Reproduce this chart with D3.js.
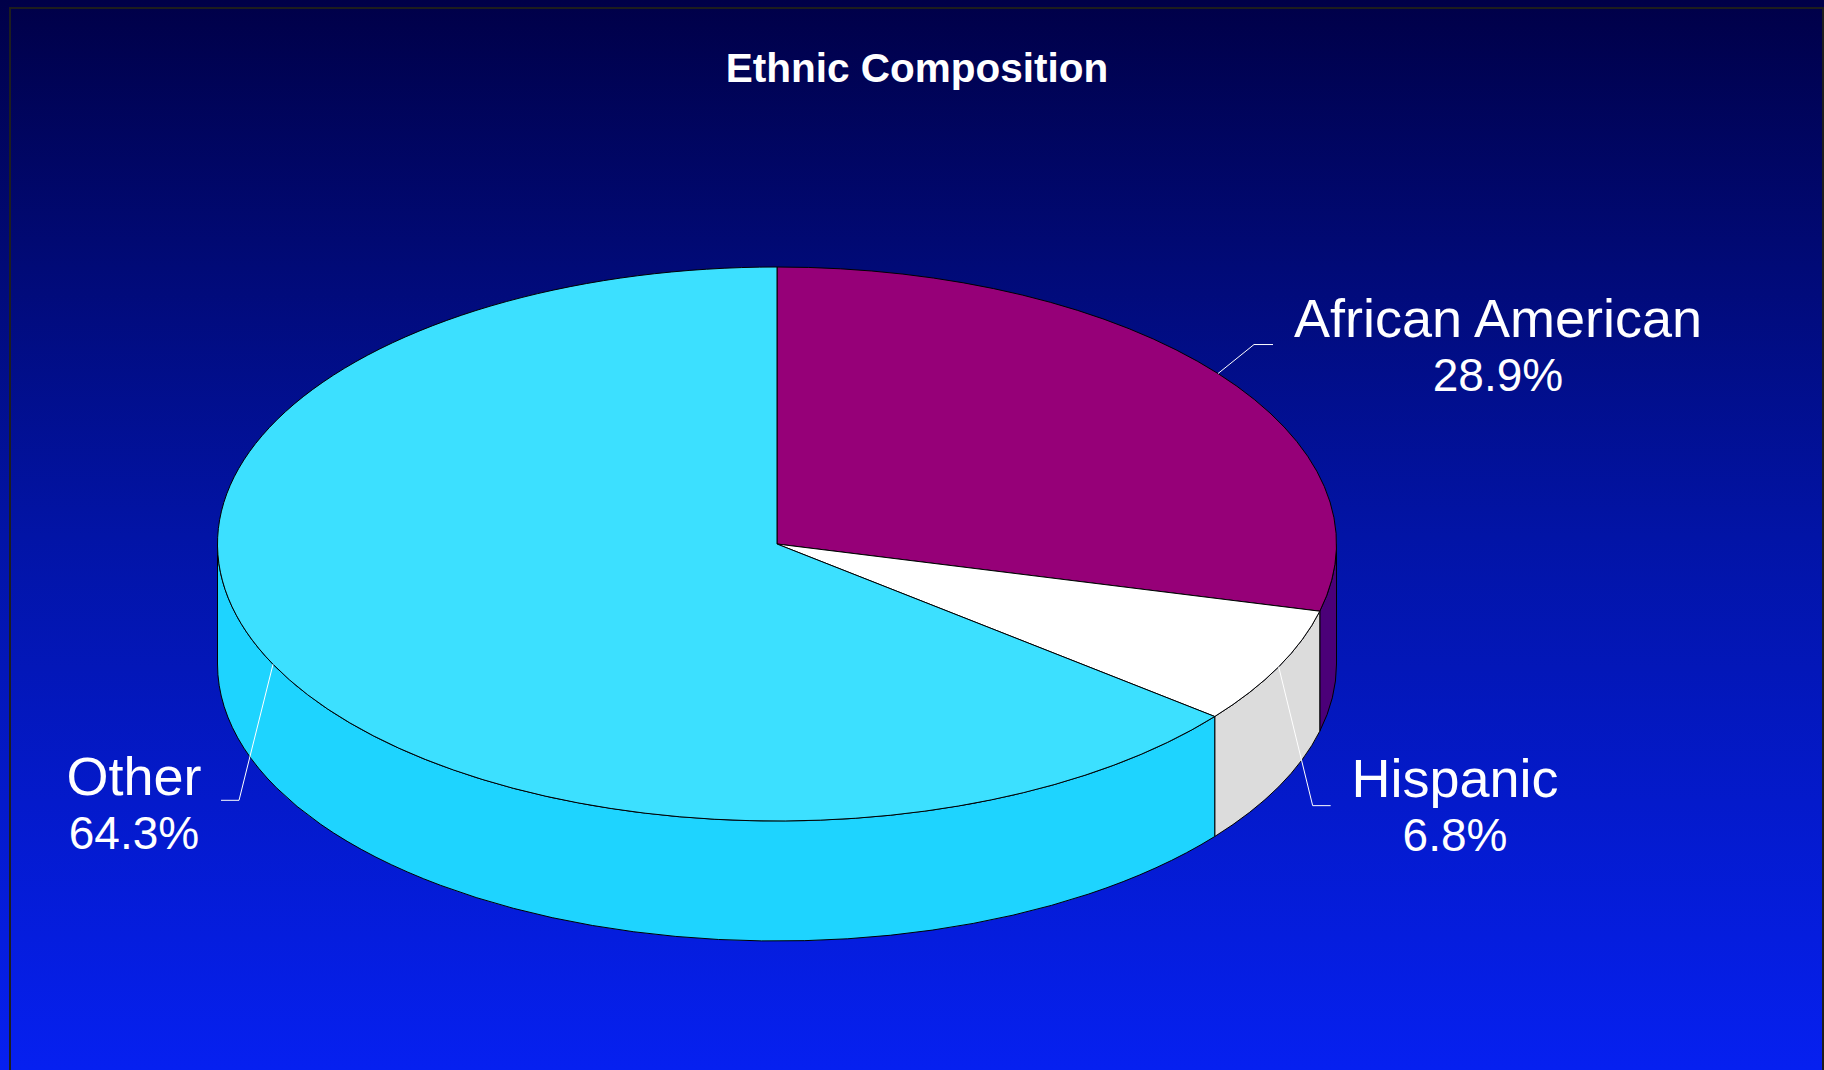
<!DOCTYPE html>
<html>
<head>
<meta charset="utf-8">
<script src="https://cdn.jsdelivr.net/npm/d3@7"></script>
<style>
  html, body { margin: 0; padding: 0; background: #000048; }
  svg { display: block; }
</style>
</head>
<body>
<svg id="chart" width="1824" height="1070"></svg>
<script>
// ---- data ----
const categories = ["African American", "Hispanic", "Other"];
const values = [28.9, 6.8, 64.3];
const valueLabels = ["28.9%", "6.8%", "64.3%"];
const topColors = ["#960078", "#ffffff", "#3ce0ff"];
const sideColors = ["#4b0078", "#dcdcdc", "#1ed4ff"];
const title = "Ethnic Composition";

// ---- layout ----
const W = 1824, H = 1070;
const cx = 777, cy = 544, rx = 559.5, ry = 277, depth = 120;
// label layout: elbow offset from slice mid-point anchor, horizontal tail, and text position
const labelLayout = [
  { elbow: [36, -29], tail: 19, text: [1498, 337] },
  { elbow: [34, 139], tail: 18, text: [1455, 797] },
  { elbow: [-34, 136], tail: -18, text: [134, 795] }
];

const svg = d3.select("#chart");
const defs = svg.append("defs");
const grad = defs.append("linearGradient").attr("id", "bg")
  .attr("x1", 0).attr("y1", 0).attr("x2", 0).attr("y2", 1);
grad.append("stop").attr("offset", "0%").attr("stop-color", "#000048");
grad.append("stop").attr("offset", "50%").attr("stop-color", "#0214a6");
grad.append("stop").attr("offset", "100%").attr("stop-color", "#0620f0");

svg.append("rect").attr("width", W).attr("height", H).attr("fill", "url(#bg)");
svg.append("rect").attr("x", 10).attr("y", 8).attr("width", 1813).attr("height", 1100)
  .attr("fill", "none").attr("stroke", "#1e1e1e").attr("stroke-width", 2);

svg.append("text").attr("x", 917).attr("y", 82).attr("text-anchor", "middle")
  .attr("font-family", "Liberation Sans, Arial, sans-serif").attr("font-weight", "bold")
  .attr("font-size", 40.5).attr("fill", "#ffffff").text(title);

const pie = d3.pie().sort(null).value(d => d).startAngle(0).endAngle(2 * Math.PI);
const arcs = pie(values);

const px = a => cx + rx * Math.sin(a);
const py = (a, off = 0) => cy - ry * Math.cos(a) + off;

function topPath(a0, a1) {
  const large = (a1 - a0) > Math.PI ? 1 : 0;
  return `M${cx},${cy}L${px(a0)},${py(a0)}A${rx},${ry} 0 ${large} 1 ${px(a1)},${py(a1)}Z`;
}
function sidePath(a0, a1) {
  const large = (a1 - a0) > Math.PI ? 1 : 0;
  return `M${px(a0)},${py(a0)}A${rx},${ry} 0 ${large} 1 ${px(a1)},${py(a1)}` +
         `L${px(a1)},${py(a1, depth)}A${rx},${ry} 0 ${large} 0 ${px(a0)},${py(a0, depth)}Z`;
}

const g = svg.append("g");
// sides (visible front half: PI/2 .. 3PI/2)
arcs.forEach((d, i) => {
  const a0 = Math.max(d.startAngle, Math.PI / 2);
  const a1 = Math.min(d.endAngle, 3 * Math.PI / 2);
  if (a1 > a0) {
    g.append("path").attr("d", sidePath(a0, a1))
      .attr("fill", sideColors[i]).attr("stroke", "#000").attr("stroke-width", 1)
      .attr("stroke-linejoin", "round");
  }
});
// tops
arcs.forEach((d, i) => {
  g.append("path").attr("d", topPath(d.startAngle, d.endAngle))
    .attr("fill", topColors[i]).attr("stroke", "#000").attr("stroke-width", 1)
    .attr("stroke-linejoin", "round");
});

// leader lines and labels
arcs.forEach((d, i) => {
  const m = (d.startAngle + d.endAngle) / 2;
  const ax = px(m), ay = py(m);
  const L = labelLayout[i];
  const ex = ax + L.elbow[0], ey = ay + L.elbow[1];
  svg.append("polyline")
    .attr("points", `${ax},${ay} ${ex},${ey} ${ex + L.tail},${ey}`)
    .attr("fill", "none").attr("stroke", "#ffffff").attr("stroke-width", 1);
  const t = svg.append("text").attr("text-anchor", "middle")
    .attr("font-family", "Liberation Sans, Arial, sans-serif")
    .attr("fill", "#ffffff");
  t.append("tspan").attr("x", L.text[0]).attr("y", L.text[1])
    .attr("font-size", 54).text(categories[i]);
  t.append("tspan").attr("x", L.text[0]).attr("y", L.text[1] + 54)
    .attr("font-size", 46).text(valueLabels[i]);
});
</script>
</body>
</html>
